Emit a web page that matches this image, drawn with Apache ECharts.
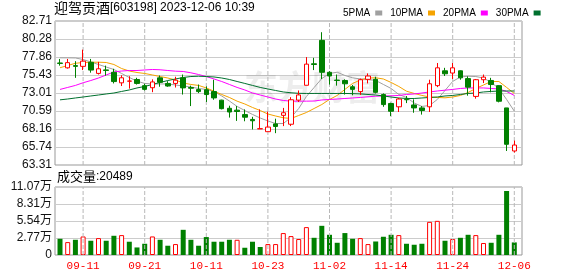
<!DOCTYPE html>
<html><head><meta charset="utf-8">
<script src="https://cdn.jsdelivr.net/npm/echarts@6/dist/echarts.min.js"></script>
<style>html,body{margin:0;padding:0;background:#fff}#c{width:578px;height:276px}</style>
</head><body><div id="c"></div>
<script>
const dates = ["09-06","09-07","09-08","09-11","09-12","09-13","09-14","09-15","09-18","09-19","09-20","09-21","09-22","09-25","09-26","09-27","09-28","10-09","10-10","10-11","10-12","10-13","10-16","10-17","10-18","10-19","10-20","10-23","10-24","10-25","10-26","10-27","10-30","10-31","11-01","11-02","11-03","11-06","11-07","11-08","11-09","11-10","11-13","11-14","11-15","11-16","11-17","11-20","11-21","11-22","11-23","11-24","11-27","11-28","11-29","11-30","12-01","12-04","12-05","12-06"];
const dateTicks = ["09-11","09-21","10-11","10-23","11-02","11-14","11-24","12-06"];
const opens  = [77.05,76.4,76.7,76.6,77.15,75.65,76.12,75.8,74.38,74.6,74.83,74.0,73.72,75.05,74.3,74.3,75.05,73.75,73.47,73.45,73.2,72.05,70.95,70.7,70.1,69.45,68.18,67.8,68.85,70.0,68.8,72.05,74.05,76.95,80.1,75.8,74.75,74.7,73.85,73.2,74.85,74.85,72.8,71.6,71.15,72.15,71.4,71.0,71.15,74.0,76.0,75.7,76.0,74.95,72.55,74.8,74.7,74.0,71.0,65.2];
const closes = [77.0,77.1,76.6,77.3,76.1,76.27,76.05,74.55,75.06,74.62,74.3,73.5,74.5,74.45,73.95,74.74,73.7,73.65,73.2,72.8,72.35,70.9,70.45,70.52,69.75,69.27,68.2,68.42,68.5,70.35,72.1,72.75,76.9,76.85,75.8,75.3,74.7,74.25,73.5,74.8,75.3,73.1,71.45,70.55,72.2,72.1,71.0,70.65,74.25,76.4,75.6,76.4,75.05,73.8,74.8,75.15,74.15,71.9,66.1,66.0];
const highs  = [77.6,77.6,77.3,78.85,77.6,77.2,76.7,76.27,75.4,75.27,75.06,74.25,74.85,75.37,74.6,75.2,75.5,74.0,74.15,73.9,74.8,72.1,71.3,71.25,70.8,69.8,70.8,70.5,69.55,71.0,72.45,73.35,77.85,77.75,81.2,75.95,75.5,74.85,74.1,74.95,75.65,75.2,72.95,71.7,72.35,72.6,72.15,71.25,74.8,77.05,76.4,77.05,76.05,75.25,74.9,75.5,75.05,74.05,71.0,66.6];
const lows   = [76.7,76.3,75.05,76.1,75.75,75.5,75.35,74.3,73.95,73.6,74.15,73.35,73.12,73.85,73.85,73.75,72.8,71.25,73.0,71.8,72.1,70.8,69.7,69.25,69.2,68.1,68.18,67.8,67.6,68.55,68.55,71.8,74.05,76.1,74.9,74.15,74.0,72.8,72.7,72.75,74.3,72.95,71.15,69.9,70.45,71.65,70.35,70.1,70.45,73.8,75.3,74.9,74.8,72.65,72.25,74.35,73.1,71.75,65.2,65.0];
const volumes = [26400,21000,24800,30200,23200,27500,23200,31300,32400,21600,12300,18300,30200,24800,15100,17800,41000,24800,15100,29200,21600,21600,24800,24800,11800,21600,13000,17800,17800,35700,30800,26000,45400,28000,47500,32900,19900,35700,26400,27500,17800,22000,29700,32900,32400,18300,16700,18300,54000,55600,23200,26000,28000,32900,32400,19500,19900,32900,104200,20489];
const ma5  = [77.75,77.75,77.73,77.52,77.19,76.85,76.51,76.18,75.64,75.10,74.6,74.3,74.23,74.23,74.23,74.09,73.95,73.82,73.62,73.49,73.22,72.61,71.93,71.2,70.65,70.12,69.64,69.24,68.9,68.9,69.71,70.92,72.54,73.75,74.96,75.64,75.81,75.37,75.06,74.9,74.83,74.7,74.16,73.62,72.81,72.41,71.66,71.2,71.33,72.14,73.35,74.57,75.17,75.27,75.23,75.03,74.43,73.62,72.14,70.56];
const ma10 = [76.41,76.72,77.01,77.12,77.15,77.16,77.12,76.85,76.31,75.97,75.77,75.64,75.44,75.23,75.03,74.76,74.36,74.16,74.03,73.69,73.25,72.81,72.41,71.91,71.53,71.06,70.65,70.18,69.91,69.67,69.58,69.98,70.38,70.92,71.46,72.14,72.68,73.49,74.3,74.76,75.03,75.06,74.9,74.43,73.89,73.25,72.95,72.68,72.47,72.41,72.36,72.47,72.68,73.08,73.62,74.09,74.56,74.56,73.76,72.95];
const ma20 = [73.49,73.76,74.03,74.39,74.69,75.03,75.44,75.84,75.97,76.04,76.04,76.11,76.18,76.14,76.04,75.95,75.91,75.73,75.5,75.23,74.9,74.56,74.16,73.76,73.42,73.01,72.74,72.47,72.2,72.0,71.91,71.91,71.91,71.93,72.07,72.14,72.2,72.27,72.34,72.41,72.5,72.58,72.61,72.63,72.68,72.81,72.88,73.01,73.15,73.28,73.39,73.49,73.62,73.69,73.69,73.69,73.62,73.55,73.22,72.68];
const ma30 = [72.09,72.2,72.34,72.47,72.61,72.74,72.88,73.01,73.22,73.42,73.69,73.89,74.16,74.43,74.69,74.9,75.1,75.23,75.27,75.23,75.17,75.03,74.83,74.56,74.3,74.03,73.76,73.55,73.35,73.15,73.04,72.97,72.95,72.95,72.95,72.95,72.95,72.95,72.92,72.88,72.81,72.74,72.61,72.47,72.34,72.27,72.27,72.34,72.41,72.47,72.61,72.68,72.81,72.95,73.01,73.15,73.22,73.28,73.28,73.28];
const priceTicks = ["63.31","65.74","68.16","70.59","73.01","75.43","77.86","80.28","82.71"];
const volTicks = ["0","2.77万","5.54万","8.31万","11.07万"];
const maNames = ["5PMA","10PMA","20PMA","30PMA"];

const UP = '#ff0000', DOWN = '#008000';
const tickIdx = dateTicks.map(d => dates.indexOf(d));
const priceVals = priceTicks.map(Number);
const pMin = priceVals[0], pMax = priceVals[priceVals.length - 1];
const volMax = 110700, volStep = volMax / 4;
const nearest = (arr, v) => { let b = 0; arr.forEach((a, i) => { if (Math.abs(a - v) < Math.abs(arr[b] - v)) b = i; }); return b; };

const candleData = dates.map((d, i) => [i, opens[i], closes[i], lows[i], highs[i]]);
const volData = volumes.map((v, i) => {
  const up = i === 0 ? closes[i] > opens[i] : closes[i] > closes[i - 1];
  return { value: [i, v], itemStyle: up ? { color: '#fff', borderColor: UP, borderWidth: 1 } : { color: DOWN } };
});
const maLine = (name, arr, color) => ({
  name, type: 'line', xAxisIndex: 0, yAxisIndex: 0,
  data: arr.map((v, i) => [i, v]), showSymbol: false, symbol: 'none',
  lineStyle: { width: 1, color }, itemStyle: { color }, z: 3
});
// one dashed vertical guide per labelled date and panel, drawn through the axes
const guides = (grid, lo, hi) => tickIdx.map(i => ({
  name: 'guide' + grid + '_' + i, type: 'line', xAxisIndex: grid, yAxisIndex: grid,
  data: [[i, lo], [i, hi]], showSymbol: false, symbol: 'none', silent: true, z: 2,
  lineStyle: { width: 1, color: '#b8b8b8', type: 'dashed', dashOffset: 0 }, emphasis: { disabled: true }
}));
const xBase = (grid, labels) => ({
  gridIndex: grid, type: 'value', min: -0.65, max: 60,
  axisLine: { show: false },
  axisTick: { show: false, customValues: tickIdx },
  splitLine: { show: false },
  axisLabel: labels ? {
    show: true, customValues: tickIdx, formatter: v => dates[Math.round(v)],
    color: '#ff0000', fontSize: 11, fontFamily: '"Liberation Mono", monospace', margin: 6
  } : { show: false, customValues: tickIdx }
});

const chart = echarts.init(document.getElementById('c'), null, { renderer: 'canvas' });
chart.setOption({
  animation: false,
  backgroundColor: '#fff',
  grid: [
    { left: 55, right: 56, top: 21, height: 144, show: true, borderColor: '#999', borderWidth: 1, backgroundColor: 'transparent' },
    { left: 55, right: 56, top: 187, height: 68, show: true, borderColor: '#999', borderWidth: 1, backgroundColor: 'transparent' }
  ],
  legend: {
    left: 338, top: 3, align: 'right', icon: 'rect', itemWidth: 7, itemHeight: 5, itemGap: 8,
    data: maNames, textStyle: { fontSize: 10, fontFamily: '"Liberation Sans Narrow", "Liberation Sans"', color: '#000' }
  },
  xAxis: [xBase(0, false), xBase(1, true)],
  yAxis: [
    { gridIndex: 0, type: 'value', min: pMin, max: pMax,
      axisLine: { show: false }, axisTick: { show: false, customValues: priceVals },
      axisLabel: { customValues: priceVals, formatter: v => priceTicks[nearest(priceVals, v)], color: '#111', fontSize: 12, fontFamily: '"Liberation Sans", Arial', margin: 3 },
      splitLine: { show: true, lineStyle: { color: '#cccccc', width: 1 } } },
    { gridIndex: 1, type: 'value', min: 0, max: volMax, interval: volStep,
      axisLine: { show: false }, axisTick: { show: false },
      axisLabel: { formatter: v => volTicks[Math.round(v / volStep)], color: '#111', fontSize: 12, fontFamily: '"Liberation Sans", "Noto Sans CJK SC"', margin: 3 },
      splitLine: { show: true, lineStyle: { color: '#cccccc', width: 1 } } }
  ],
  graphic: [
    { type: 'text', left: 54, top: 1, z: 5, style: {
      text: '{a|迎驾贡酒}{b|[603198] 2023-12-06 10:39}',
      rich: { a: { fontSize: 14, fontFamily: '"Noto Sans CJK SC"', fill: '#000' }, b: { fontSize: 12, fontFamily: '"Liberation Sans"', fill: '#000' } } } },
    { type: 'text', left: 57, top: 170, z: 5, style: {
      text: '{a|成交量}{b|:20489}',
      rich: { a: { fontSize: 13, fontFamily: '"Noto Sans CJK SC"', fill: '#000' }, b: { fontSize: 12, fontFamily: '"Liberation Sans"', fill: '#000' } } } },
    { type: 'text', left: 244, top: 70, z: 1, silent: true, style: {
      text: '东方财富', font: 'bold 34px "Noto Sans CJK SC"', fill: 'rgba(0,0,0,0.07)' } }
  ],
  series: [
    ...guides(0, pMin, pMax),
    ...guides(1, 0, volMax),
    { name: 'K', type: 'candlestick', xAxisIndex: 0, yAxisIndex: 0, data: candleData,
      encode: { x: 0, y: [1, 2, 3, 4] }, barWidth: 5,
      itemStyle: { color: '#fff', color0: DOWN, borderColor: UP, borderColor0: DOWN, borderWidth: 1 }, z: 4 },
    maLine('5PMA', ma5, '#a0a0a0'),
    maLine('10PMA', ma10, '#f5a300'),
    maLine('20PMA', ma20, '#ff00ff'),
    maLine('30PMA', ma30, '#00702e'),
    { name: 'VOL', type: 'bar', xAxisIndex: 1, yAxisIndex: 1, data: volData, barWidth: 5 }
  ]
});
</script></body></html>
